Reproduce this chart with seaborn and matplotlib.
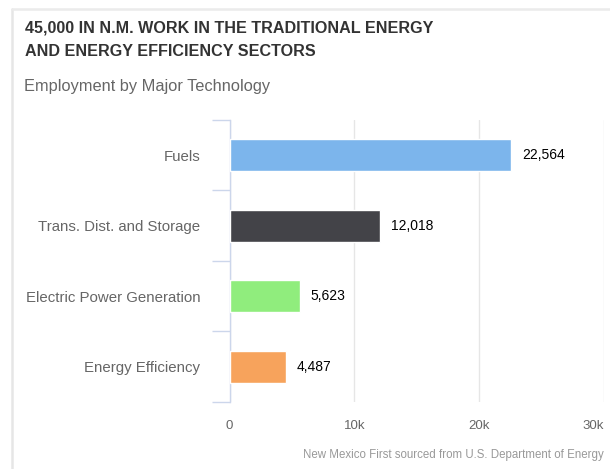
import matplotlib
matplotlib.use("Agg")
import matplotlib.pyplot as plt
import matplotlib.ticker as mticker
import seaborn as sns
import pandas as pd

# Data
technologies = ["Fuels", "Trans. Dist. and Storage", "Electric Power Generation", "Energy Efficiency"]
employment = [22564, 12018, 5623, 4487]
bar_colors = ["#7cb5ec", "#434348", "#90ed7d", "#f7a35c"]
x_ticks = [0, 10000, 20000, 30000]
x_tick_labels = ["0", "10k", "20k", "30k"]

data = pd.DataFrame({"Technology": technologies, "Employment": employment})

sns.set_style("white")
plt.rcParams["font.family"] = ["Liberation Sans", "DejaVu Sans"]

fig = plt.figure(figsize=(6.1, 4.69), dpi=100)
W, H = 610, 469
ax = fig.add_axes([229.5 / W, 1 - 402 / H, (604 - 229.5) / W, (402 - 120) / H])

sns.barplot(data=data, y="Technology", x="Employment", hue="Technology",
            palette=bar_colors, orient="h", width=0.45, legend=False,
            saturation=1, ax=ax, zorder=3)

ax.set_xlim(0, 30000)
ax.set_ylim(3.5, -0.5)
ax.set_xticks(x_ticks)
ax.set_xticklabels(x_tick_labels)
ax.set_xlabel("")
ax.set_ylabel("")
# last label pulled inside like the original
ax.get_xticklabels()[-1].set_horizontalalignment("right")

# vertical gridlines
ax.grid(axis="x", color="#e6e6e6", linewidth=1, zorder=0)
ax.grid(axis="y", visible=False)

for side in ["top", "right", "bottom"]:
    ax.spines[side].set_visible(False)
ax.spines["left"].set_color("#ccd6eb")
ax.spines["left"].set_linewidth(1)

# category ticks on the boundaries
ax.yaxis.set_minor_locator(mticker.FixedLocator([-0.5, 0.5, 1.5, 2.5, 3.5]))
ax.tick_params(axis="y", which="minor", left=True, length=13, color="#ccd6eb", width=1)
ax.tick_params(axis="y", which="major", left=False, length=0, pad=21, labelsize=10.8, labelcolor="#666666")
ax.tick_params(axis="x", length=0, pad=13, labelsize=9.5, labelcolor="#666666")

for container in ax.containers:
    ax.bar_label(container, labels=[f"{v:,.0f}" for v in container.datavalues],
                 padding=8, fontsize=10, color="#000000")

# titles
fig.text(25 / W, 1 - 28 / H, "45,000 IN N.M. WORK IN THE TRADITIONAL ENERGY",
         fontsize=11.6, fontweight="bold", color="#333333", ha="left", va="center")
fig.text(25 / W, 1 - 52 / H, "AND ENERGY EFFICIENCY SECTORS",
         fontsize=11.6, fontweight="bold", color="#333333", ha="left", va="center")
fig.text(24 / W, 1 - 86 / H, "Employment by Major Technology",
         fontsize=11.8, color="#666666", ha="left", va="center")

# credit
fig.text(604 / W, 1 - 455 / H, "New Mexico First sourced from U.S. Department of Energy",
         fontsize=8.3, color="#999999", ha="right", va="center")

# card border
fig.add_artist(plt.Line2D([12 / W, 12 / W], [0, 1 - 9 / H], color="#e6e6e6", linewidth=1.8,
                          transform=fig.transFigure))
fig.add_artist(plt.Line2D([12 / W, 1], [1 - 9 / H, 1 - 9 / H], color="#ebebeb", linewidth=1.8,
                          transform=fig.transFigure))

fig.savefig("out.png", dpi=100, facecolor="white")
